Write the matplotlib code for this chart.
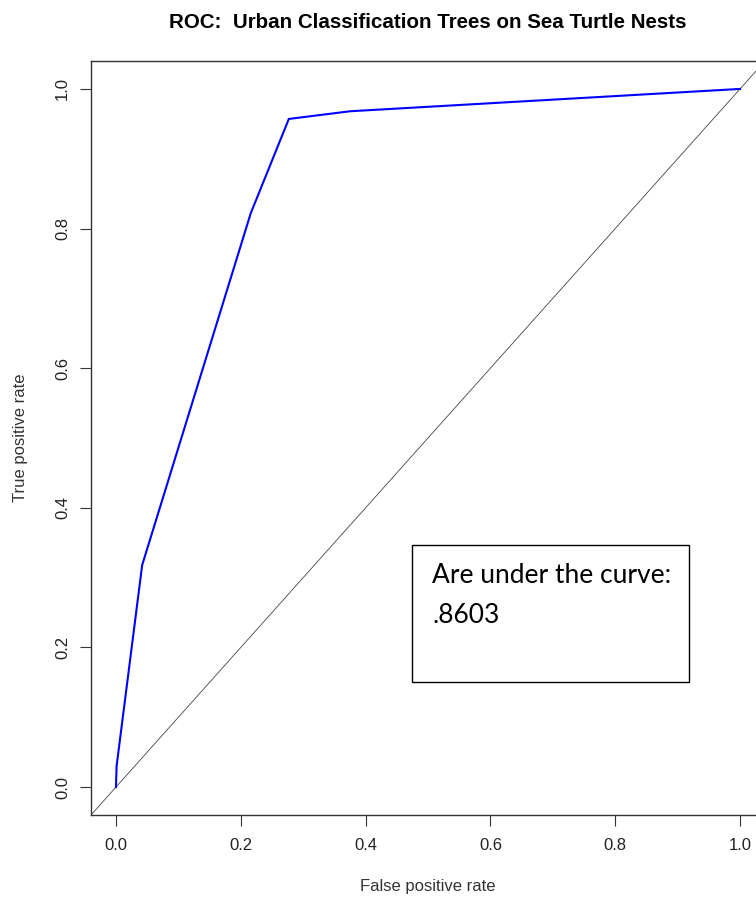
import matplotlib
matplotlib.use('Agg')
from matplotlib import pyplot as plt
from matplotlib.patches import Rectangle

# roc points
fpr = [0.0, 0.001, 0.042, 0.216, 0.277, 0.375, 1.0]
tpr = [0.0, 0.03, 0.318, 0.822, 0.957, 0.968, 1.0]
ticks = [0.0, 0.2, 0.4, 0.6, 0.8, 1.0]
tickLabels = ['0.0', '0.2', '0.4', '0.6', '0.8', '1.0']
aucText = ['Are under the curve:', '.8603']

plt.rcParams['font.family'] = ['Liberation Sans', 'DejaVu Sans']

W, H = 756, 898
fig = plt.figure(figsize=(W/100, H/100), dpi=100)
# axes runs past the right edge like the original screenshot
ax = fig.add_axes([91/W, 83/H, 674/W, 754/H])

ax.plot(fpr, tpr, color='#0000ff', linewidth=1.5, zorder=3)
ax.axline((0, 0), slope=1, color='#444444', linewidth=0.6)

ax.set_xlim(-0.04, 1.04)
ax.set_ylim(-0.04, 1.04)
ax.set_xticks(ticks)
ax.set_xticklabels(tickLabels)
ax.set_yticks(ticks)
ax.set_yticklabels(tickLabels)
ax.tick_params(length=8, width=0.8, color='#333333', labelsize=12,
               labelcolor='#222222')
ax.tick_params(axis='x', pad=8.5)
ax.tick_params(axis='y', pad=7)
plt.setp(ax.get_yticklabels(), rotation=90, va='center')

for s in ax.spines.values():
    s.set_linewidth(1.0)
    s.set_color('#333333')

ax.set_xlabel('False positive rate', fontsize=12, color='#333333', va='center')
ax.xaxis.set_label_coords(0.5, (815-886)/754)
ax.set_ylabel('True positive rate', fontsize=12, color='#333333', va='center')
ax.yaxis.set_label_coords((21-91)/674, 0.5)

ax.set_title('ROC:  Urban Classification Trees on Sea Turtle Nests',
             fontsize=14.8, fontweight='bold', pad=0, y=(815-28)/754)

# text box pasted over the plot
fig.add_artist(Rectangle((412/W, (H-682)/H), 277/W, 137/H,
                         transform=fig.transFigure, fill=False,
                         edgecolor='black', linewidth=1.0))
fig.text(432/W, (H-583)/H, aucText[0], fontsize=19, family='Lato', va='baseline')
fig.text(432/W, (H-623)/H, aucText[1], fontsize=19, family='Lato', va='baseline')

fig.savefig('out.png', dpi=100)
